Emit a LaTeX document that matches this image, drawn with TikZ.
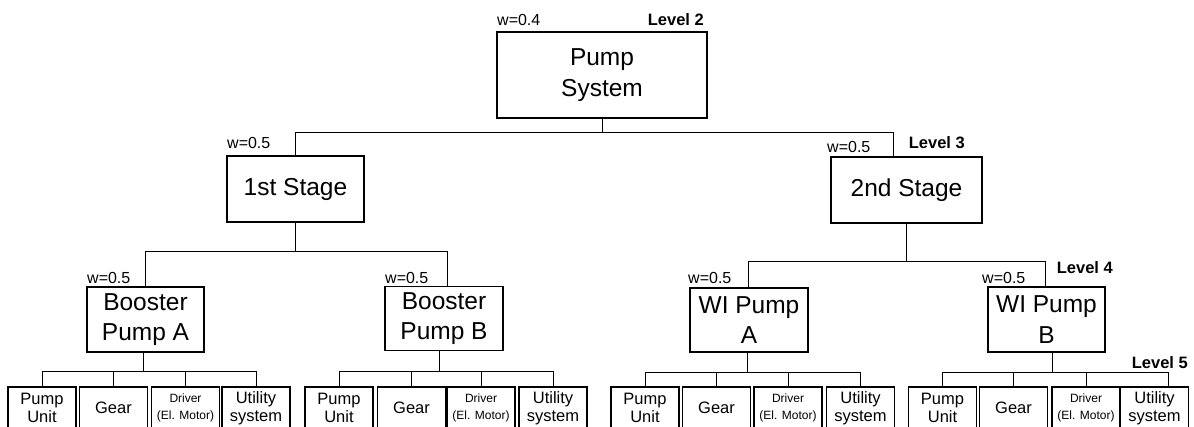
\documentclass[tikz,border=0pt]{standalone}
\usepackage{fontspec}
\setmainfont{Liberation Sans}
\begin{document}
\begin{tikzpicture}[x=1pt,y=-1pt,
  big/.style={draw, line width=1.1pt, align=center, inner sep=0pt, font=\fontsize{24.5}{30.5}\selectfont},
  leaf/.style={draw, line width=1.1pt, align=center, inner sep=0pt, minimum width=68pt, minimum height=42pt, font=\fontsize{16.5}{18}\selectfont},
  leafsmall/.style={leaf, font=\fontsize{12}{17}\selectfont},
  wlab/.style={anchor=base west, inner sep=0pt, font=\fontsize{16}{18}\selectfont},
  lvl/.style={anchor=base east, inner sep=0pt, font=\bfseries\fontsize{16.5}{18}\selectfont},
  conn/.style={line width=0.9pt}
]
\useasboundingbox (0,0) rectangle (1194,426);
\clip (0,0) rectangle (1194,426);

% main boxes
\node[big, minimum width=210pt, minimum height=86pt] (ps) at (602,75) {Pump\\System};
\node[big, minimum width=137pt, minimum height=66pt] (s1) at (295.5,189) {1st Stage};
\node[big, minimum width=151pt, minimum height=66pt] (s2) at (906.5,190) {2nd Stage};
\node[big, minimum width=117pt, minimum height=65pt] (ba) at (145.5,319.5) {Booster\\Pump A};
\node[big, minimum width=118pt, minimum height=64pt] (bb) at (444,318.5) {Booster\\Pump B};
\node[big, minimum width=118pt, minimum height=64pt] (wa) at (749,320) {WI Pump\\A};
\node[big, minimum width=117pt, minimum height=65pt] (wb) at (1046.5,319.5) {WI Pump\\B};

% leaves
\node[leaf] (a1) at (42,408) {Pump\\Unit};
\node[leaf] (a2) at (113.5,408) {Gear};
\node[leafsmall] (a3) at (185.5,408) {Driver\\(El. Motor)};
\node[leaf] (a4) at (256,408) {Utility\\system};

\node[leaf] (b1) at (339,408) {Pump\\Unit};
\node[leaf] (b2) at (411.5,408) {Gear};
\node[leafsmall] (b3) at (481,408) {Driver\\(El. Motor)};
\node[leaf] (b4) at (553,408) {Utility\\system};

\node[leaf] (c1) at (645,408) {Pump\\Unit};
\node[leaf] (c2) at (716.5,408) {Gear};
\node[leafsmall] (c3) at (788,408) {Driver\\(El. Motor)};
\node[leaf] (c4) at (860.5,408) {Utility\\system};

\node[leaf] (d1) at (942.5,408) {Pump\\Unit};
\node[leaf] (d2) at (1013.5,408) {Gear};
\node[leafsmall] (d3) at (1086,408) {Driver\\(El. Motor)};
\node[leaf] (d4) at (1154.5,408) {Utility\\system};

% weight labels
\node[wlab] (wps) at (497,25) {w=0.4};
\node[wlab] (ws1) at (227,148) {w=0.5};
\node[wlab] (ws2) at (827,152) {w=0.5};
\node[wlab] (wba) at (87,283) {w=0.5};
\node[wlab] (wbb) at (385,283) {w=0.5};
\node[wlab] (wwa) at (688,283) {w=0.5};
\node[wlab] (wwb) at (982,283) {w=0.5};

% level labels
\node[lvl] (l2) at (704,25) {Level 2};
\node[lvl] (l3) at (965,148) {Level 3};
\node[lvl] (l4) at (1113,273) {Level 4};
\node[lvl] (l5) at (1188,368) {Level 5};

% connectors
\draw[conn] (ps.south) -- ++(0,14) coordinate (j0) -| (s1.north);
\draw[conn] (j0) -| ([xshift=-13.5pt]s2.north);

\draw[conn] (s1.south) -- ++(0,29) coordinate (j1) -| (ba.north);
\draw[conn] (j1) -| ([xshift=3pt]bb.north);

\draw[conn] (s2.south) -- ++(0,38) coordinate (j2) -| ([xshift=-1pt]wa.north);
\draw[conn] (j2) -| ([xshift=-1.5pt]wb.north);

\draw[conn] ([xshift=-2.5pt]ba.south) -- ++(0,19) coordinate (ja);
\draw[conn] (a1.north) |- (ja) -| (a4.north);
\draw[conn] (a2.north) -- (a2.north |- ja);
\draw[conn] (a3.north) -- (a3.north |- ja);

\draw[conn] ([xshift=-5pt]bb.south) -- ++(0,20.5) coordinate (jb);
\draw[conn] (b1.north) |- (jb) -| (b4.north);
\draw[conn] (b2.north) -- (b2.north |- jb);
\draw[conn] (b3.north) -- (b3.north |- jb);

\draw[conn] ([xshift=-2pt]wa.south) -- ++(0,20) coordinate (jc);
\draw[conn] (c1.north) |- (jc) -| (c4.north);
\draw[conn] (c2.north) -- (c2.north |- jc);
\draw[conn] (c3.north) -- (c3.north |- jc);

\draw[conn] ([xshift=5.5pt]wb.south) -- ++(0,20) coordinate (jd);
\draw[conn] (d1.north) |- (jd) -| ([xshift=13.5pt]d4.north);
\draw[conn] (d2.north) -- (d2.north |- jd);
\draw[conn] (d3.north) -- (d3.north |- jd);
\end{tikzpicture}
\end{document}
